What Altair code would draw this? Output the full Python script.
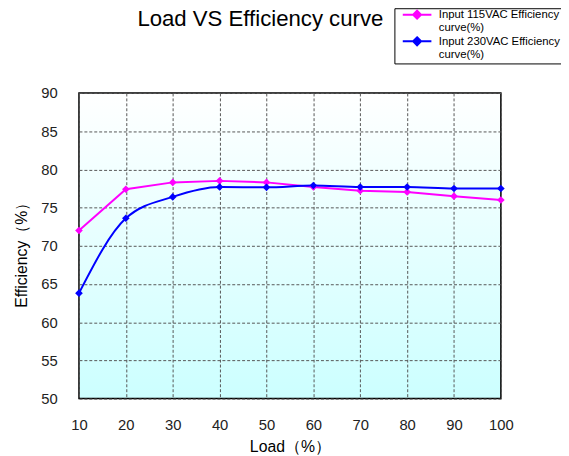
import altair as alt
import pandas as pd

load = [10, 20, 30, 40, 50, 60, 70, 80, 90, 100]
eff_115 = [72.0, 77.4, 78.3, 78.5, 78.3, 77.7, 77.2, 77.05, 76.5, 76.0]
eff_230 = [63.8, 73.6, 76.4, 77.7, 77.65, 77.9, 77.7, 77.7, 77.5, 77.5]
series_names = ["Input 115VAC Efficiency curve(%)", "Input 230VAC Efficiency curve(%)"]
series_colors = ["#ff00ff", "#0000ff"]
x_ticks = [10, 20, 30, 40, 50, 60, 70, 80, 90, 100]
y_ticks = [50, 55, 60, 65, 70, 75, 80, 85, 90]

rows = []
for x, v in zip(load, eff_115):
    rows.append({"load": x, "eff": v, "series": series_names[0]})
for x, v in zip(load, eff_230):
    rows.append({"load": x, "eff": v, "series": series_names[1]})
df = pd.DataFrame(rows)

FONT = "Liberation Sans"

color = alt.Color(
    "series:N",
    scale=alt.Scale(domain=series_names, range=series_colors),
    legend=alt.Legend(
        title=None,
        orient="none",
        legendX=320,
        legendY=-86,
        direction="vertical",
        strokeColor="#000000",
        fillColor="#ffffff",
        padding=3,
        symbolType="M-2.42,-0.58H2.42M0,-1.25L0.67,-0.58L0,0.09L-0.67,-0.58Z",
        symbolSize=144,
        symbolStrokeWidth=2,
        symbolOffset=13,
        labelOffset=15,
        labelFont=FONT,
        labelFontSize=11.5,
        labelColor="#000000",
        labelLimit=200,
        labelBaseline="alphabetic",
        rowPadding=-1,
        labelExpr="[slice(datum.label, 0, 23), slice(datum.label, 24)]",
    ),
)

x_enc = alt.X(
    "load:Q",
    scale=alt.Scale(domain=[10, 100], nice=False, zero=False),
    axis=alt.Axis(
        values=x_ticks,
        title="Load（%）",
        grid=True,
        ticks=False,
        domain=False,
        labelFlush=False,
        labelPadding=19,
        titlePadding=7,
        titleFontSize=16,
    ),
)
y_enc = alt.Y(
    "eff:Q",
    scale=alt.Scale(domain=[50, 90], nice=False, zero=False),
    axis=alt.Axis(
        values=y_ticks,
        title="Efficiency（%）",
        grid=True,
        ticks=False,
        domain=False,
        labelFlush=False,
        labelPadding=22,
        titlePadding=12,
        titleY=160,
    ),
)

base = alt.Chart(df)

line115 = base.transform_filter(alt.datum.series == series_names[0]).mark_line(
    strokeWidth=2, interpolate="linear"
).encode(x=x_enc, y=y_enc, color=color)

line230 = base.transform_filter(alt.datum.series == series_names[1]).mark_line(
    strokeWidth=2, interpolate="monotone"
).encode(x=x_enc, y=y_enc, color=color)

points = base.mark_point(shape="diamond", filled=True, size=60, opacity=1).encode(
    x=x_enc, y=y_enc,
    color=alt.Color("series:N", scale=alt.Scale(domain=series_names, range=series_colors), legend=None),
)

chart = alt.layer(line115, line230, points).properties(
    width=428,
    height=310,
    padding={"left": 72, "top": 83, "right": 61, "bottom": 55},
    autosize=alt.AutoSizeParams(type="none"),
    title=alt.Title(
        "Load VS Efficiency curve",
        font=FONT,
        fontSize=22.5,
        fontWeight="normal",
        color="#000000",
        anchor="middle",
        frame="group",
        dx=-30,
        dy=46,
        offset=0,
        baseline="bottom",
    ),
).configure_view(
    stroke="#000000",
    strokeWidth=1.5,
    fill={"expr": "{gradient: 'linear', x1: 0, y1: 0, x2: 0, y2: 1, stops: [{offset: 0, color: '#ffffff'}, {offset: 1, color: '#ccffff'}]}"},
).configure_axis(
    labelFont=FONT,
    labelFontSize=15,
    labelColor="#222222",
    titleFont=FONT,
    titleFontSize=16,
    titleFontWeight="normal",
    titleColor="#000000",
    gridColor="#555555",
    gridDash=[3, 2],
    gridWidth=1,
    gridOpacity=1,
)

chart.save("out.html", embed_options={"renderer": "svg", "actions": False})
